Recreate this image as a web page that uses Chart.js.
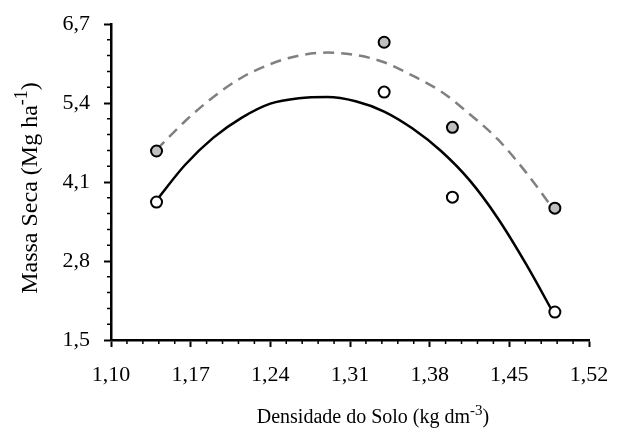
<!DOCTYPE html>
<html>
<head>
<meta charset="utf-8">
<script src="https://cdn.jsdelivr.net/npm/chart.js@4/dist/chart.umd.min.js"></script>
<style>
  html, body { margin: 0; padding: 0; background: #fff; }
  #wrap { width: 622px; height: 432px; }
</style>
</head>
<body>
<div id="wrap"><canvas id="chart" width="622" height="432"></canvas></div>
<script>
// observed points
const densidade = [1.14, 1.34, 1.40, 1.49];
const massaAberto = [3.77, 5.58, 3.85, 1.96];   // open circles
const massaCinza = [4.61, 6.40, 5.00, 3.67];    // grey circles

// fitted curves
const curveX = [1.14, 1.165, 1.19, 1.215, 1.24, 1.265, 1.29, 1.315, 1.34, 1.365, 1.39, 1.415, 1.44, 1.465, 1.49];
const curveSolid = [3.80, 4.38, 4.83, 5.16, 5.39, 5.48, 5.50, 5.43, 5.26, 4.98, 4.61, 4.13, 3.50, 2.74, 1.90];
const curveDashed = [4.63, 5.10, 5.50, 5.82, 6.04, 6.18, 6.23, 6.19, 6.07, 5.85, 5.59, 5.22, 4.80, 4.25, 3.62];

// axis ticks
const xTicks = [1.10, 1.17, 1.24, 1.31, 1.38, 1.45, 1.52];
const yTicks = [1.5, 2.8, 4.1, 5.4, 6.7];

const yTitle = [['Massa Seca (Mg ha', false], ['-1', true], [')', false]];
const xTitle = [['Densidade do Solo (kg dm', false], ['-3', true], [')', false]];

const FONT = '"Liberation Serif", "Times New Roman", serif';

function toXY(xs, ys) {
  return xs.map((v, i) => ({ x: v, y: ys[i] }));
}

function drawRich(ctx, parts, size) {
  let w = 0;
  parts.forEach(([t, sup]) => {
    ctx.font = (sup ? size * 0.75 : size) + 'px ' + FONT;
    w += ctx.measureText(t).width;
  });
  let cx = -w / 2;
  parts.forEach(([t, sup]) => {
    ctx.font = (sup ? size * 0.75 : size) + 'px ' + FONT;
    ctx.fillText(t, cx, sup ? -size * 0.4 : 0);
    cx += ctx.measureText(t).width;
  });
}

const decor = {
  id: 'decor',
  afterDraw(chart) {
    const { ctx, scales: { x, y } } = chart;
    const ax = y.right, ay = x.top;
    ctx.save();
    ctx.strokeStyle = '#000';
    ctx.lineWidth = 1.5;
    ctx.beginPath();
    for (let i = 0; i < xTicks.length - 1; i++) {
      for (let k = 1; k < 5; k++) {
        const px = x.getPixelForValue(xTicks[i] + (xTicks[i + 1] - xTicks[i]) * k / 5);
        ctx.moveTo(px, ay);
        ctx.lineTo(px, ay + 4);
      }
    }
    for (let i = 0; i < yTicks.length - 1; i++) {
      for (let k = 1; k < 5; k++) {
        const py = y.getPixelForValue(yTicks[i] + (yTicks[i + 1] - yTicks[i]) * k / 5);
        ctx.moveTo(ax, py);
        ctx.lineTo(ax - 4, py);
      }
    }
    ctx.stroke();

    ctx.fillStyle = '#000';
    ctx.textBaseline = 'alphabetic';
    ctx.textAlign = 'left';
    ctx.save();
    ctx.translate(37, 188);
    ctx.rotate(-Math.PI / 2);
    drawRich(ctx, yTitle, 24);
    ctx.restore();
    ctx.save();
    ctx.translate(373, 423);
    drawRich(ctx, xTitle, 20);
    ctx.restore();
    ctx.restore();
  }
};

new Chart(document.getElementById('chart'), {
  type: 'scatter',
  data: {
    datasets: [
      {
        label: 'cinza',
        data: toXY(densidade, massaCinza),
        backgroundColor: '#bfbfbf',
        borderColor: '#000',
        borderWidth: 2,
        pointRadius: 5.5,
        order: 0
      },
      {
        label: 'aberto',
        data: toXY(densidade, massaAberto),
        backgroundColor: '#fff',
        borderColor: '#000',
        borderWidth: 2,
        pointRadius: 5.5,
        order: 0
      },
      {
        type: 'line',
        label: 'ajuste cinza',
        data: toXY(curveX, curveDashed),
        borderColor: '#808080',
        borderWidth: 2.5,
        borderDash: [11, 7],
        pointRadius: 0,
        cubicInterpolationMode: 'monotone',
        fill: false,
        order: 1
      },
      {
        type: 'line',
        label: 'ajuste aberto',
        data: toXY(curveX, curveSolid),
        borderColor: '#000',
        borderWidth: 2.5,
        pointRadius: 0,
        cubicInterpolationMode: 'monotone',
        fill: false,
        order: 1
      }
    ]
  },
  options: {
    responsive: false,
    animation: false,
    layout: { padding: { left: 0, right: 33, top: 24, bottom: 0 } },
    plugins: { legend: { display: false }, tooltip: { enabled: false } },
    scales: {
      x: {
        type: 'linear',
        min: 1.10,
        max: 1.52,
        afterBuildTicks: s => { s.ticks = xTicks.map(v => ({ value: v })); },
        afterFit: s => { s.height = 92; s.paddingLeft = 0; s.paddingRight = 0; },
        border: { color: '#000', width: 2.5 },
        grid: { drawOnChartArea: false, color: '#000', tickLength: 7, tickWidth: 2, tickColor: '#000' },
        ticks: {
          color: '#000',
          padding: 15,
          maxRotation: 0,
          font: { family: FONT, size: 22 },
          callback: v => v.toFixed(2).replace('.', ',')
        }
      },
      y: {
        type: 'linear',
        min: 1.5,
        max: 6.7,
        afterBuildTicks: s => { s.ticks = yTicks.map(v => ({ value: v })); },
        afterFit: s => { s.width = 111; s.paddingTop = 0; s.paddingBottom = 0; },
        border: { color: '#000', width: 2.5 },
        grid: { drawOnChartArea: false, color: '#000', tickLength: 7, tickWidth: 2, tickColor: '#000' },
        ticks: {
          color: '#000',
          padding: 14,
          font: { family: FONT, size: 22 },
          callback: v => v.toFixed(1).replace('.', ',')
        }
      }
    }
  },
  plugins: [decor]
});
</script>
</body>
</html>
